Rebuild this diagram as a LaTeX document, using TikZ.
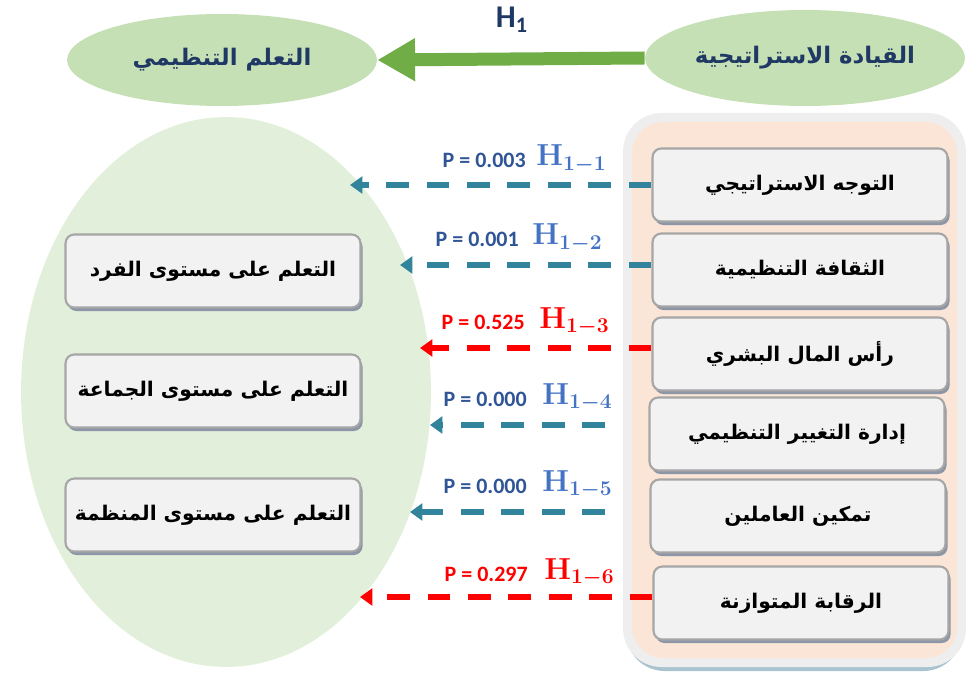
\documentclass[tikz,border=0pt]{standalone}
\usepackage{fontspec}
\usepackage{amsmath}
\usepackage{xcolor}
\usetikzlibrary{arrows.meta,shadows,shapes.geometric}
\TeXXeTstate=1
\newfontfamily\arabicfont[Script=Arabic]{DejaVu Sans}
\newfontfamily\calibri{Carlito}
\newcommand{\artext}[1]{{\arabicfont\bfseries\beginR #1\endR}}

\definecolor{navy}{HTML}{1F3864}
\definecolor{ovalfill}{HTML}{C5E0B4}
\definecolor{bigfill}{HTML}{E2EFDA}
\definecolor{arrowgreen}{HTML}{70AD47}
\definecolor{boxfill}{HTML}{F2F2F2}
\definecolor{boxline}{HTML}{A6A6A6}
\definecolor{boxshadow}{HTML}{8C96A6}
\definecolor{panelfill}{HTML}{FBE5D6}
\definecolor{panelrim}{HTML}{EEEEEE}
\definecolor{panelshadow}{HTML}{A9C3CF}
\definecolor{linkteal}{HTML}{31849B}
\definecolor{pblue}{HTML}{2F5597}
\definecolor{hblue}{HTML}{4472C4}
\definecolor{linkred}{HTML}{FF0000}

\begin{document}
\begin{tikzpicture}[x=0.02cm,y=-0.02cm,>={Triangle[width=9.5pt,length=7pt]}]
\tikzstyle{oval}=[ellipse,fill=ovalfill,text=navy,inner sep=0pt,font=\fontsize{13}{15}\selectfont]
\tikzstyle{box}=[draw=boxline,line width=1.2pt,fill=boxfill,rounded corners=5pt,
  minimum width=5.9cm,minimum height=1.46cm,
  drop shadow={shadow xshift=1.2pt,shadow yshift=-2pt,fill=boxshadow,opacity=1},
  font=\fontsize{11.5}{13}\selectfont]
\tikzstyle{teal link}=[->,draw=linkteal,line width=3.2pt,dash pattern=on 13pt off 10pt]
\tikzstyle{red link}=[->,draw=linkred,line width=3.2pt,dash pattern=on 13pt off 10pt]
\tikzstyle{pval}=[anchor=base east,inner sep=0pt,font=\calibri\bfseries\fontsize{12.5}{14}\selectfont]
\tikzstyle{hyp}=[anchor=base west,inner sep=0pt,font=\fontsize{18.5}{20}\selectfont\boldmath]

\useasboundingbox (0,0) rectangle (966,675);

% right panel
\fill[panelshadow,rounded corners=22pt] (626,121) rectangle (962,671);
\fill[panelrim,rounded corners=22pt] (623,113) rectangle (966,667);
\fill[panelfill,rounded corners=18pt] (632,122) rectangle (957,658);

\node[ellipse,fill=bigfill,minimum width=8.2cm,minimum height=11cm] (E) at (226,392) {};

\node[oval,minimum width=6.2cm,minimum height=1.84cm] (A) at (222,60) {\artext{التعلم التنظيمي}};
\node[oval,minimum width=6.4cm,minimum height=1.92cm] (B) at (805,58) {\artext{القيادة الاستراتيجية}};
\draw[-{Triangle[width=23pt,length=21.5pt]},arrowgreen,line width=7.4pt] (B.west) -- (A.east);
\node[text=navy,font=\calibri\bfseries\fontsize{18}{20}\selectfont] (H) at (512,20) {H\textsubscript{1}};

\node[box] (L1) at (213,271) {\artext{التعلم على مستوى الفرد}};
\node[box] (L2) at (213,391) {\artext{التعلم على مستوى الجماعة}};
\node[box] (L3) at (213,515) {\artext{التعلم على مستوى المنظمة}};

\node[box] (R1) at (800,185) {\artext{التوجه الاستراتيجي}};
\node[box] (R2) at (800,270) {\artext{الثقافة التنظيمية}};
\node[box] (R3) at (800,354) {\artext{رأس المال البشري}};
\node[box] (R4) at (797,434) {\artext{إدارة التغيير التنظيمي}};
\node[box] (R5) at (798,516) {\artext{تمكين العاملين}};
\node[box] (R6) at (801,603) {\artext{الرقابة المتوازنة}};

\coordinate (t1) at (350,185);
\coordinate (t2) at (400,265);
\coordinate (t3) at (420,348);
\coordinate (t4) at (430,425);
\coordinate (t5) at (410,512);
\coordinate (t6) at (360,597);
\coordinate (s4) at (605,425);
\coordinate (s5) at (605,512);

\draw[teal link] (R1.west |- t1) -- (t1);
\draw[teal link] (R2.west |- t2) -- (t2);
\draw[red link] (R3.west |- t3) -- (t3);
\draw[teal link] (s4) -- (t4);
\draw[teal link] (s5) -- (t5);
\draw[red link] (R6.west |- t6) -- (t6);

\node[pval,text=pblue] (p1) at (526,168) {P = 0.003};
\node[hyp,text=hblue] (h1) at (536,166) {$\mathbf{H}_{1-1}$};
\node[pval,text=pblue] (p2) at (519,247) {P = 0.001};
\node[hyp,text=hblue] (h2) at (532,245) {$\mathbf{H}_{1-2}$};
\node[pval,text=linkred] (p3) at (525,329) {P = 0.525};
\node[hyp,text=linkred] (h3) at (539,328) {$\mathbf{H}_{1-3}$};
\node[pval,text=pblue] (p4) at (527,406) {P = 0.000};
\node[hyp,text=hblue] (h4) at (542,404) {$\mathbf{H}_{1-4}$};
\node[pval,text=pblue] (p5) at (527,493) {P = 0.000};
\node[hyp,text=hblue] (h5) at (542,491) {$\mathbf{H}_{1-5}$};
\node[pval,text=linkred] (p6) at (528,581) {P = 0.297};
\node[hyp,text=linkred] (h6) at (544,579) {$\mathbf{H}_{1-6}$};
\end{tikzpicture}
\end{document}
